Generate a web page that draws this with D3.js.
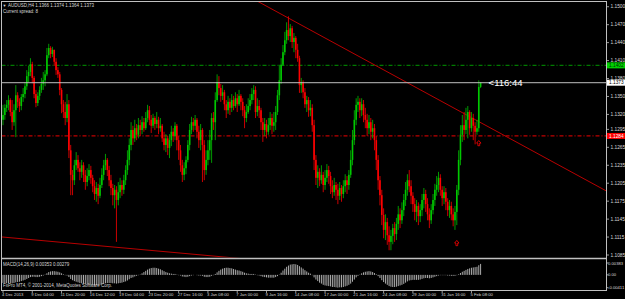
<!DOCTYPE html>
<html><head><meta charset="utf-8">
<script src="https://cdn.jsdelivr.net/npm/d3@7"></script>
<style>html,body{margin:0;padding:0;background:#000;overflow:hidden}svg{display:block}</style>
</head><body>
<svg id="c" width="625" height="299"></svg>
<script>
// ---------- DATA ----------
const firstOpen = 1.1311;
const closes = [
1.1319,1.1331,1.1336,1.1344,1.1324,1.1307,1.1327,1.1352,1.1341,1.1334,
1.1349,1.1354,1.1367,1.1384,1.1391,1.1404,1.1381,1.1354,1.1339,1.1351,
1.1361,1.1371,1.1377,1.1387,1.1419,1.1431,1.1421,1.1428,1.1408,1.1394,
1.1387,1.1361,1.1337,1.1324,1.1314,1.1337,1.1260,1.1219,1.1210,1.1235,
1.1244,1.1230,1.1224,1.1235,1.1219,1.1207,1.1217,1.1227,1.1214,1.1200,
1.1187,1.1197,1.1184,1.1202,1.1219,1.1235,1.1244,1.1227,1.1210,1.1197,
1.1185,1.1194,1.1177,1.1190,1.1202,1.1194,1.1210,1.1227,1.1244,1.1269,
1.1294,1.1280,1.1297,1.1286,1.1302,1.1294,1.1307,1.1297,1.1314,1.1327,
1.1311,1.1301,1.1314,1.1304,1.1311,1.1297,1.1301,1.1280,1.1269,1.1280,
1.1264,1.1277,1.1291,1.1284,1.1301,1.1277,1.1260,1.1235,1.1219,1.1230,
1.1244,1.1269,1.1294,1.1307,1.1301,1.1311,1.1291,1.1277,1.1294,1.1269,
1.1227,1.1244,1.1260,1.1277,1.1314,1.1307,1.1344,1.1374,1.1364,1.1351,
1.1357,1.1337,1.1327,1.1341,1.1331,1.1344,1.1334,1.1347,1.1337,1.1351,
1.1341,1.1327,1.1314,1.1324,1.1334,1.1344,1.1354,1.1361,1.1324,1.1334,
1.1327,1.1307,1.1294,1.1304,1.1291,1.1302,1.1314,1.1301,1.1307,1.1324,
1.1352,1.1377,1.1403,1.1424,1.1444,1.1461,1.1451,1.1464,1.1441,1.1448,
1.1428,1.1414,1.1369,1.1374,1.1357,1.1337,1.1344,1.1327,1.1331,1.1302,
1.1244,1.1214,1.1224,1.1210,1.1219,1.1202,1.1214,1.1227,1.1217,1.1200,
1.1190,1.1202,1.1194,1.1184,1.1197,1.1187,1.1200,1.1210,1.1202,1.1219,
1.1244,1.1277,1.1311,1.1336,1.1341,1.1327,1.1337,1.1319,1.1311,1.1297,
1.1307,1.1291,1.1297,1.1277,1.1244,1.1210,1.1185,1.1152,1.1127,1.1140,
1.1118,1.1107,1.1117,1.1130,1.1120,1.1137,1.1153,1.1143,1.1160,1.1177,
1.1194,1.1210,1.1200,1.1184,1.1170,1.1157,1.1167,1.1150,1.1160,1.1177,
1.1187,1.1170,1.1153,1.1143,1.1160,1.1177,1.1194,1.1202,1.1214,1.1194,
1.1180,1.1190,1.1174,1.1160,1.1167,1.1153,1.1143,1.1157,1.1194,1.1244,
1.1286,1.1302,1.1294,1.1311,1.1324,1.1297,1.1314,1.1301,1.1291,1.1297,
1.1366,1.1373];
const highs = [
1.1336,1.1337,1.1344,1.1352,1.1347,1.1344,1.1337,1.1369,1.1357,1.1347,
1.1354,1.1364,1.1374,1.1394,1.1401,1.1414,1.1408,1.1384,1.1361,1.1357,
1.1367,1.1381,1.1391,1.1394,1.1431,1.1438,1.1434,1.1433,1.1428,1.1414,
1.1399,1.1391,1.1364,1.1344,1.1341,1.1354,1.1344,1.1269,1.1227,1.1244,
1.1257,1.1252,1.1240,1.1244,1.1240,1.1227,1.1230,1.1237,1.1234,1.1219,
1.1210,1.1207,1.1204,1.1214,1.1230,1.1244,1.1254,1.1247,1.1234,1.1219,
1.1204,1.1202,1.1200,1.1207,1.1214,1.1210,1.1219,1.1235,1.1260,1.1280,
1.1307,1.1301,1.1311,1.1304,1.1314,1.1311,1.1317,1.1314,1.1324,1.1336,
1.1334,1.1319,1.1321,1.1317,1.1324,1.1316,1.1314,1.1304,1.1291,1.1287,
1.1284,1.1287,1.1301,1.1297,1.1307,1.1304,1.1284,1.1269,1.1244,1.1240,
1.1250,1.1277,1.1304,1.1316,1.1314,1.1319,1.1314,1.1301,1.1304,1.1297,
1.1277,1.1260,1.1277,1.1294,1.1322,1.1324,1.1357,1.1387,1.1384,1.1371,
1.1369,1.1361,1.1344,1.1351,1.1347,1.1354,1.1351,1.1357,1.1354,1.1361,
1.1354,1.1347,1.1334,1.1337,1.1347,1.1354,1.1364,1.1369,1.1367,1.1347,
1.1344,1.1331,1.1314,1.1314,1.1311,1.1314,1.1324,1.1321,1.1324,1.1334,
1.1361,1.1403,1.1414,1.1436,1.1458,1.1474,1.1484,1.1471,1.1468,1.1456,
1.1451,1.1438,1.1418,1.1381,1.1377,1.1364,1.1351,1.1349,1.1344,1.1337,
1.1311,1.1252,1.1235,1.1230,1.1235,1.1224,1.1227,1.1237,1.1234,1.1224,
1.1210,1.1214,1.1207,1.1204,1.1207,1.1202,1.1210,1.1220,1.1217,1.1227,
1.1260,1.1294,1.1327,1.1347,1.1351,1.1347,1.1347,1.1344,1.1331,1.1321,
1.1319,1.1314,1.1311,1.1304,1.1284,1.1252,1.1217,1.1194,1.1163,1.1153,
1.1147,1.1133,1.1127,1.1137,1.1140,1.1147,1.1167,1.1163,1.1173,1.1187,
1.1207,1.1220,1.1227,1.1210,1.1190,1.1180,1.1177,1.1173,1.1170,1.1187,
1.1197,1.1194,1.1180,1.1163,1.1170,1.1187,1.1204,1.1217,1.1224,1.1220,
1.1200,1.1200,1.1197,1.1180,1.1177,1.1174,1.1163,1.1167,1.1202,1.1260,
1.1302,1.1319,1.1324,1.1331,1.1334,1.1327,1.1324,1.1321,1.1307,1.1311,
1.1377,1.1374];
const lows = [
1.1302,1.1311,1.1324,1.1327,1.1317,1.1294,1.1301,1.1282,1.1331,1.1324,
1.1327,1.1341,1.1347,1.1361,1.1374,1.1384,1.1372,1.1347,1.1332,1.1334,
1.1344,1.1356,1.1361,1.1367,1.1384,1.1414,1.1414,1.1416,1.1401,1.1386,
1.1381,1.1352,1.1322,1.1314,1.1302,1.1307,1.1247,1.1185,1.1185,1.1202,
1.1227,1.1224,1.1210,1.1214,1.1207,1.1194,1.1200,1.1210,1.1204,1.1190,
1.1177,1.1174,1.1170,1.1180,1.1197,1.1210,1.1227,1.1217,1.1200,1.1185,
1.1168,1.1163,1.1107,1.1168,1.1180,1.1184,1.1187,1.1202,1.1219,1.1235,
1.1260,1.1269,1.1274,1.1277,1.1280,1.1284,1.1287,1.1291,1.1294,1.1307,
1.1302,1.1289,1.1297,1.1294,1.1297,1.1287,1.1291,1.1274,1.1260,1.1257,
1.1252,1.1247,1.1267,1.1274,1.1277,1.1260,1.1244,1.1224,1.1207,1.1210,
1.1220,1.1240,1.1260,1.1287,1.1291,1.1294,1.1280,1.1264,1.1260,1.1207,
1.1210,1.1219,1.1235,1.1244,1.1239,1.1294,1.1277,1.1341,1.1352,1.1341,
1.1344,1.1327,1.1314,1.1321,1.1319,1.1324,1.1327,1.1331,1.1324,1.1334,
1.1327,1.1317,1.1297,1.1307,1.1321,1.1327,1.1337,1.1344,1.1314,1.1317,
1.1314,1.1294,1.1274,1.1284,1.1280,1.1286,1.1294,1.1287,1.1291,1.1294,
1.1319,1.1344,1.1371,1.1401,1.1419,1.1438,1.1444,1.1441,1.1431,1.1424,
1.1414,1.1408,1.1356,1.1356,1.1347,1.1331,1.1324,1.1316,1.1317,1.1291,
1.1227,1.1202,1.1197,1.1200,1.1204,1.1190,1.1194,1.1207,1.1204,1.1187,
1.1180,1.1184,1.1177,1.1170,1.1177,1.1174,1.1180,1.1190,1.1187,1.1194,
1.1214,1.1235,1.1269,1.1302,1.1324,1.1314,1.1317,1.1307,1.1297,1.1284,
1.1287,1.1277,1.1280,1.1260,1.1227,1.1194,1.1168,1.1135,1.1113,1.1110,
1.1102,1.1093,1.1093,1.1103,1.1107,1.1110,1.1127,1.1130,1.1137,1.1150,
1.1167,1.1184,1.1190,1.1170,1.1157,1.1143,1.1140,1.1135,1.1140,1.1150,
1.1163,1.1157,1.1143,1.1130,1.1137,1.1153,1.1167,1.1184,1.1190,1.1184,
1.1167,1.1170,1.1160,1.1150,1.1147,1.1143,1.1133,1.1127,1.1135,1.1185,
1.1235,1.1274,1.1277,1.1287,1.1280,1.1286,1.1291,1.1277,1.1270,1.1286,
1.1291,1.1364];
const macd = [
-0.0026,-0.0027,-0.0027,-0.0026,-0.0026,-0.0027,-0.0026,-0.0024,-0.0023,-0.0022,
-0.0020,-0.0018,-0.0016,-0.0013,-0.0010,-0.0007,-0.0006,-0.0006,-0.0007,-0.0007,
-0.0006,-0.0004,-0.0002,0.0001,0.0005,0.0009,0.0011,0.0012,0.0012,0.0011,
0.0010,0.0008,0.0005,0.0002,-0.0001,-0.0002,-0.0007,-0.0013,-0.0017,-0.0020,
-0.0022,-0.0024,-0.0026,-0.0027,-0.0028,-0.0030,-0.0031,-0.0031,-0.0031,-0.0032,
-0.0033,-0.0033,-0.0033,-0.0032,-0.0031,-0.0029,-0.0027,-0.0026,-0.0026,-0.0026,
-0.0027,-0.0027,-0.0028,-0.0027,-0.0026,-0.0025,-0.0023,-0.0021,-0.0018,-0.0014,
-0.0010,-0.0008,-0.0005,-0.0003,-0.0001,0.0001,0.0005,0.0009,0.0013,0.0017,
0.0020,0.0022,0.0023,0.0023,0.0022,0.0020,0.0018,0.0015,0.0012,0.0009,
0.0007,0.0005,0.0004,0.0003,0.0003,0.0001,-0.0001,-0.0002,-0.0005,-0.0006,
-0.0007,-0.0006,-0.0004,-0.0002,-0.0001,0.0000,-0.0001,-0.0002,-0.0002,-0.0003,
-0.0006,-0.0007,-0.0007,-0.0006,-0.0003,-0.0001,0.0003,0.0008,0.0013,0.0017,
0.0020,0.0022,0.0023,0.0023,0.0022,0.0021,0.0019,0.0017,0.0015,0.0014,
0.0012,0.0010,0.0007,0.0005,0.0004,0.0003,0.0003,0.0003,0.0001,-0.0001,
-0.0002,-0.0004,-0.0006,-0.0007,-0.0008,-0.0009,-0.0009,-0.0009,-0.0009,-0.0007,
-0.0004,0.0001,0.0007,0.0014,0.0020,0.0026,0.0030,0.0033,0.0034,0.0035,
0.0034,0.0032,0.0028,0.0024,0.0020,0.0015,0.0011,0.0007,0.0004,-0.0001,
-0.0008,-0.0015,-0.0020,-0.0025,-0.0028,-0.0032,-0.0034,-0.0035,-0.0036,-0.0037,
-0.0039,-0.0039,-0.0040,-0.0041,-0.0040,-0.0040,-0.0039,-0.0037,-0.0035,-0.0032,
-0.0028,-0.0022,-0.0015,-0.0008,-0.0003,0.0001,0.0005,0.0008,0.0010,0.0011,
0.0012,0.0011,0.0009,0.0006,0.0002,-0.0004,-0.0010,-0.0017,-0.0023,-0.0028,
-0.0032,-0.0036,-0.0038,-0.0039,-0.0039,-0.0038,-0.0036,-0.0034,-0.0032,-0.0029,
-0.0025,-0.0021,-0.0018,-0.0017,-0.0016,-0.0016,-0.0016,-0.0016,-0.0015,-0.0013,
-0.0011,-0.0010,-0.0010,-0.0011,-0.0010,-0.0008,-0.0006,-0.0004,-0.0002,-0.0001,
-0.0001,-0.0001,-0.0001,-0.0002,-0.0002,-0.0003,-0.0003,-0.0003,-0.0001,0.0002,
0.0006,0.0010,0.0013,0.0016,0.0019,0.0021,0.0023,0.0024,0.0025,0.0026,
0.0031,0.00353];
const priceTicks = [1.1500,1.1470,1.1440,1.1410,1.1380,1.1350,1.1320,1.1295,1.1265,1.1235,1.1205,1.1175,1.1145,1.1115,1.1085];
const macdTicks = [0.00383, 0, -0.00411];
const macdTickLabels = ["0.00383", "0.00", "-0.00411"];
const timeLabels = ["4 Dec 2013","9 Dec 04:00","11 Dec 20:00","16 Dec 12:00","19 Dec 04:00","23 Dec 20:00","27 Dec 16:00","3 Jan 08:00","7 Jan 00:00","9 Jan 16:00","14 Jan 08:00","17 Jan 00:00","21 Jan 16:00","24 Jan 08:00","29 Jan 00:00","31 Jan 16:00","5 Feb 08:00"];
const timeLabelBars = [0,16,32,48,64,80,96,112,128,144,160,176,192,208,224,240,256];
const greenLevel = 1.1402;
const redLevel = 1.1284;
const bidPrice = 1.1373;
const trend1 = [[156, 1.1481], [260, 1.1308]];
const trend2 = [[0, 1.1115], [116, 1.1083]];
const arrowMarks = [[248, 1.1105], [260, 1.1272]];
const titleText = "AUDUSD,H4  1.1366 1.1374 1.1364 1.1373";
const spreadText = "Current spread: 8";
const macdTitle = "MACD(14,26,9) 0.00353 0.00279";
const copyright = "FxPro MT4, \u00a9 2001-2014, MetaQuotes Software Corp.";
const timerText = "<116:44";

// ---------- DRAW ----------
const svg = d3.select("#c");
const FONT = "'Liberation Sans', Arial, sans-serif";
const L = 1.5, R = 606.5, T = 1.5, SEP = 258.5, B = 290.5;
const n = closes.length;
const x = d3.scaleLinear().domain([0, n - 1]).range([3, 480.6]);
const y = d3.scaleLinear().domain([1.1080, 1.15079]).range([258, 2]);
const ym = d3.scaleLinear().domain([-0.00486, 0.00511]).range([290, 259]);

svg.append("rect").attr("width", 625).attr("height", 299).attr("fill", "#000");

const defs = svg.append("defs");
defs.append("clipPath").attr("id", "mainClip").append("rect")
  .attr("x", L).attr("y", T).attr("width", R - L).attr("height", SEP - T - 1);

const main = svg.append("g").attr("clip-path", "url(#mainClip)");

// horizontal levels
main.append("line").attr("x1", L).attr("x2", R).attr("y1", y(greenLevel)).attr("y2", y(greenLevel))
  .attr("stroke", "#007a00").attr("stroke-width", 1.3).attr("stroke-dasharray", "4,2,1,2");
main.append("line").attr("x1", L).attr("x2", R).attr("y1", y(redLevel)).attr("y2", y(redLevel))
  .attr("stroke", "#c00000").attr("stroke-width", 1.3).attr("stroke-dasharray", "4,2,1,2");

// trend lines (rays through anchor points)
function ray(p) {
  const x1 = x(p[0][0]), y1 = y(p[0][1]), x2 = x(p[1][0]), y2 = y(p[1][1]);
  const k = (y2 - y1) / (x2 - x1);
  return { x1: L, y1: y1 + (L - x1) * k, x2: R, y2: y1 + (R - x1) * k };
}
[trend1, trend2].forEach(t => {
  const r = ray(t);
  main.append("line").attr("x1", r.x1).attr("y1", r.y1).attr("x2", r.x2).attr("y2", r.y2)
    .attr("stroke", "#b80000").attr("stroke-width", 1);
});

// candles
const bars = closes.map((c, i) => {
  const o = i ? closes[i - 1] : firstOpen;
  return { i, o, c, h: Math.max(highs[i], o, c), l: Math.min(lows[i], o, c) };
});
const cg = main.append("g");
cg.selectAll("line.w").data(bars).enter().append("line")
  .attr("x1", d => x(d.i)).attr("x2", d => x(d.i))
  .attr("y1", d => y(d.h)).attr("y2", d => y(d.l))
  .attr("stroke", d => d.c >= d.o ? "#00a800" : "#e00000").attr("stroke-width", 0.9);
cg.selectAll("rect.b").data(bars).enter().append("rect")
  .attr("x", d => x(d.i) - 0.8).attr("width", 1.6)
  .attr("y", d => y(Math.max(d.o, d.c)))
  .attr("height", d => Math.max(0.8, Math.abs(y(d.o) - y(d.c))))
  .attr("fill", d => d.c >= d.o ? "#00c800" : "#ff0000");

// bid line
main.append("line").attr("x1", L).attr("x2", R).attr("y1", y(bidPrice)).attr("y2", y(bidPrice))
  .attr("stroke", "#c0c0c0").attr("stroke-width", 1);

// arrows
main.selectAll("path.ar").data(arrowMarks).enter().append("path")
  .attr("transform", d => `translate(${x(d[0])},${y(d[1])})`)
  .attr("d", "M0,-2.6L2.2,0L0.9,0L0.9,2.6L-0.9,2.6L-0.9,0L-2.2,0Z")
  .attr("fill", "none").attr("stroke", "#ff0000").attr("stroke-width", 0.8);

// timer
svg.append("text").attr("x", x(n - 1) + 8).attr("y", y(bidPrice) + 3.6)
  .attr("fill", "#ffffff").attr("font-family", FONT).attr("font-size", 9.5).text(timerText);

// MACD histogram
const mg = svg.append("g");
mg.selectAll("line").data(macd).enter().append("line")
  .attr("x1", (d, i) => x(i)).attr("x2", (d, i) => x(i))
  .attr("y1", ym(0)).attr("y2", d => ym(d))
  .attr("stroke", "#c0c0c0").attr("stroke-width", 0.9);

// frame
const fr = svg.append("g").attr("stroke", "#c0c0c0").attr("fill", "none");
fr.append("rect").attr("x", L).attr("y", T).attr("width", R - L).attr("height", B - T).attr("stroke-width", 1);
fr.append("line").attr("x1", L).attr("x2", R).attr("y1", SEP).attr("y2", SEP).attr("stroke-width", 1.6);

// y axis labels main (drawn before the price boxes, which partly cover one of them as in the reference)
const ax = svg.append("g").attr("font-family", FONT).attr("font-size", 4.8).attr("fill", "#d8d8d8");
priceTicks.forEach(p => {
  ax.append("line").attr("x1", R).attr("x2", R + 2.5).attr("y1", y(p)).attr("y2", y(p)).attr("stroke", "#c0c0c0").attr("stroke-width", 0.8);
  ax.append("text").attr("x", 610.5).attr("y", y(p) + 1.7).text(p.toFixed(4));
});
macdTicks.forEach((v, i) => {
  ax.append("line").attr("x1", R).attr("x2", R + 2).attr("y1", ym(v)).attr("y2", ym(v)).attr("stroke", "#c0c0c0").attr("stroke-width", 0.8);
  ax.append("text").attr("x", 608).attr("y", ym(v) + 1.6).attr("font-size", 4.2).text(macdTickLabels[i]);
});

// price boxes
function box(p, fill, tc) {
  ax.append("rect").attr("x", 607).attr("y", y(p) - 3).attr("width", 18).attr("height", 6).attr("fill", fill);
  ax.append("text").attr("x", 609).attr("y", y(p) + 1.7).attr("fill", tc).text(p.toFixed(4));
}
box(greenLevel, "#00d000", "#003000");
box(bidPrice, "#ffffff", "#000000");
box(redLevel, "#ff0000", "#ffffff");

// time axis
timeLabelBars.forEach((b, i) => {
  ax.append("line").attr("x1", x(b)).attr("x2", x(b)).attr("y1", B).attr("y2", B + 2.5).attr("stroke", "#c0c0c0").attr("stroke-width", 0.8);
  ax.append("text").attr("x", x(b) - 1).attr("y", 296).attr("font-size", 4.2).text(timeLabels[i]);
});

// texts
ax.append("text").attr("x", 2.5).attr("y", 6.8).attr("font-size", 4).text("\u25BC");
ax.append("text").attr("x", 8).attr("y", 6.8).attr("font-size", 4.5).text(titleText);
ax.append("text").attr("x", 3).attr("y", 12.5).attr("font-size", 4.5).text(spreadText);
ax.append("text").attr("x", 3).attr("y", 265.8).attr("font-size", 4.5).text(macdTitle);
ax.append("text").attr("x", 3).attr("y", 286.8).attr("font-size", 4.5).text(copyright);
</script>
</body></html>
